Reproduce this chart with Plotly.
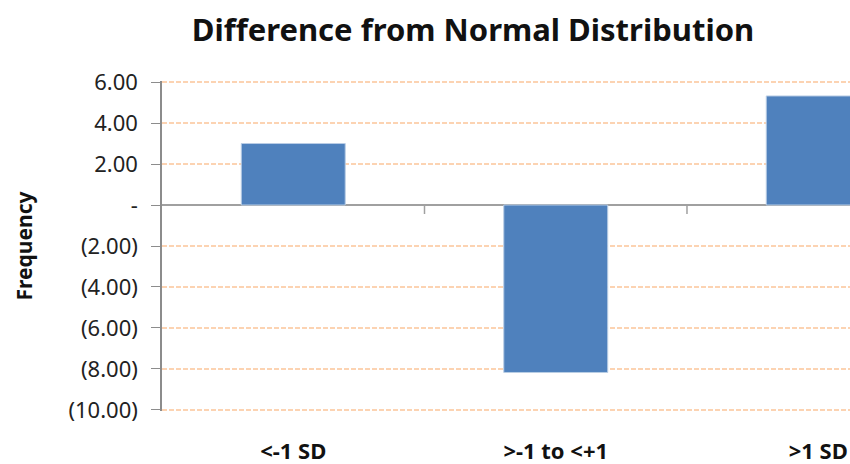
import plotly.graph_objects as go

# Data
categories = ["<-1 SD", ">-1 to <+1", ">1 SD"]
differences = [3.00, -8.17, 5.32]
y_ticks = [6, 4, 2, 0, -2, -4, -6, -8, -10]


def accounting(v):
    if v == 0:
        return "-"
    if v < 0:
        return f"({abs(v):.2f})"
    return f"{v:.2f}"


y_ticktext = [accounting(v) for v in y_ticks]

fig = go.Figure(
    go.Bar(
        x=categories,
        y=differences,
        marker=dict(color="#4F81BD", line=dict(color="#B9CDE5", width=1)),
        width=0.396,
    )
)

# Small downward tick marks on the zero line at the category boundaries
for b in [0.5, 1.5]:
    fig.add_shape(
        type="line", xref="x", yref="y",
        x0=b, x1=b, ysizemode="pixel", yanchor=0, y0=0, y1=-9,
        line=dict(color="#A0A0A0", width=1.5),
    )

fig.update_layout(
    width=850,
    height=464,
    margin=dict(l=162, r=0, t=81, b=53),
    paper_bgcolor="white",
    plot_bgcolor="white",
    showlegend=False,
    title=dict(
        text="<b>Difference from Normal Distribution</b>",
        x=473 / 850, xanchor="center",
        y=1 - 30 / 464, yanchor="middle",
        font=dict(family="Noto Sans", size=31, color="#111"),
    ),
    xaxis=dict(
        range=[-0.5, 2.121],
        automargin=False,
        showgrid=False,
        showline=False,
        ticks="",
        ticklabelstandoff=25,
        tickfont=dict(family="Noto Sans", size=22, color="#111", weight="bold"),
        fixedrange=True,
    ),
    yaxis=dict(
        # slight padding so the gridlines at 6 and -10 are drawn too
        range=[-10.05, 6.05],
        automargin=False,
        tickvals=y_ticks,
        ticktext=y_ticktext,
        tickfont=dict(family="Noto Sans", size=22, color="#222"),
        showline=True,
        linecolor="#8C8C8C",
        linewidth=1.5,
        ticks="outside",
        ticklen=9,
        tickcolor="#8C8C8C",
        tickwidth=1,
        ticklabelstandoff=9,
        showgrid=True,
        gridcolor="#FCD3B2",
        gridwidth=2,
        griddash="5px,2px",
        zeroline=True,
        zerolinecolor="#A0A0A0",
        zerolinewidth=2,
        title=dict(
            text="<b>Frequency</b>",
            font=dict(family="Noto Sans", size=21, color="#111"),
            standoff=30,
        ),
        fixedrange=True,
    ),
)

fig.write_html("out.html")
